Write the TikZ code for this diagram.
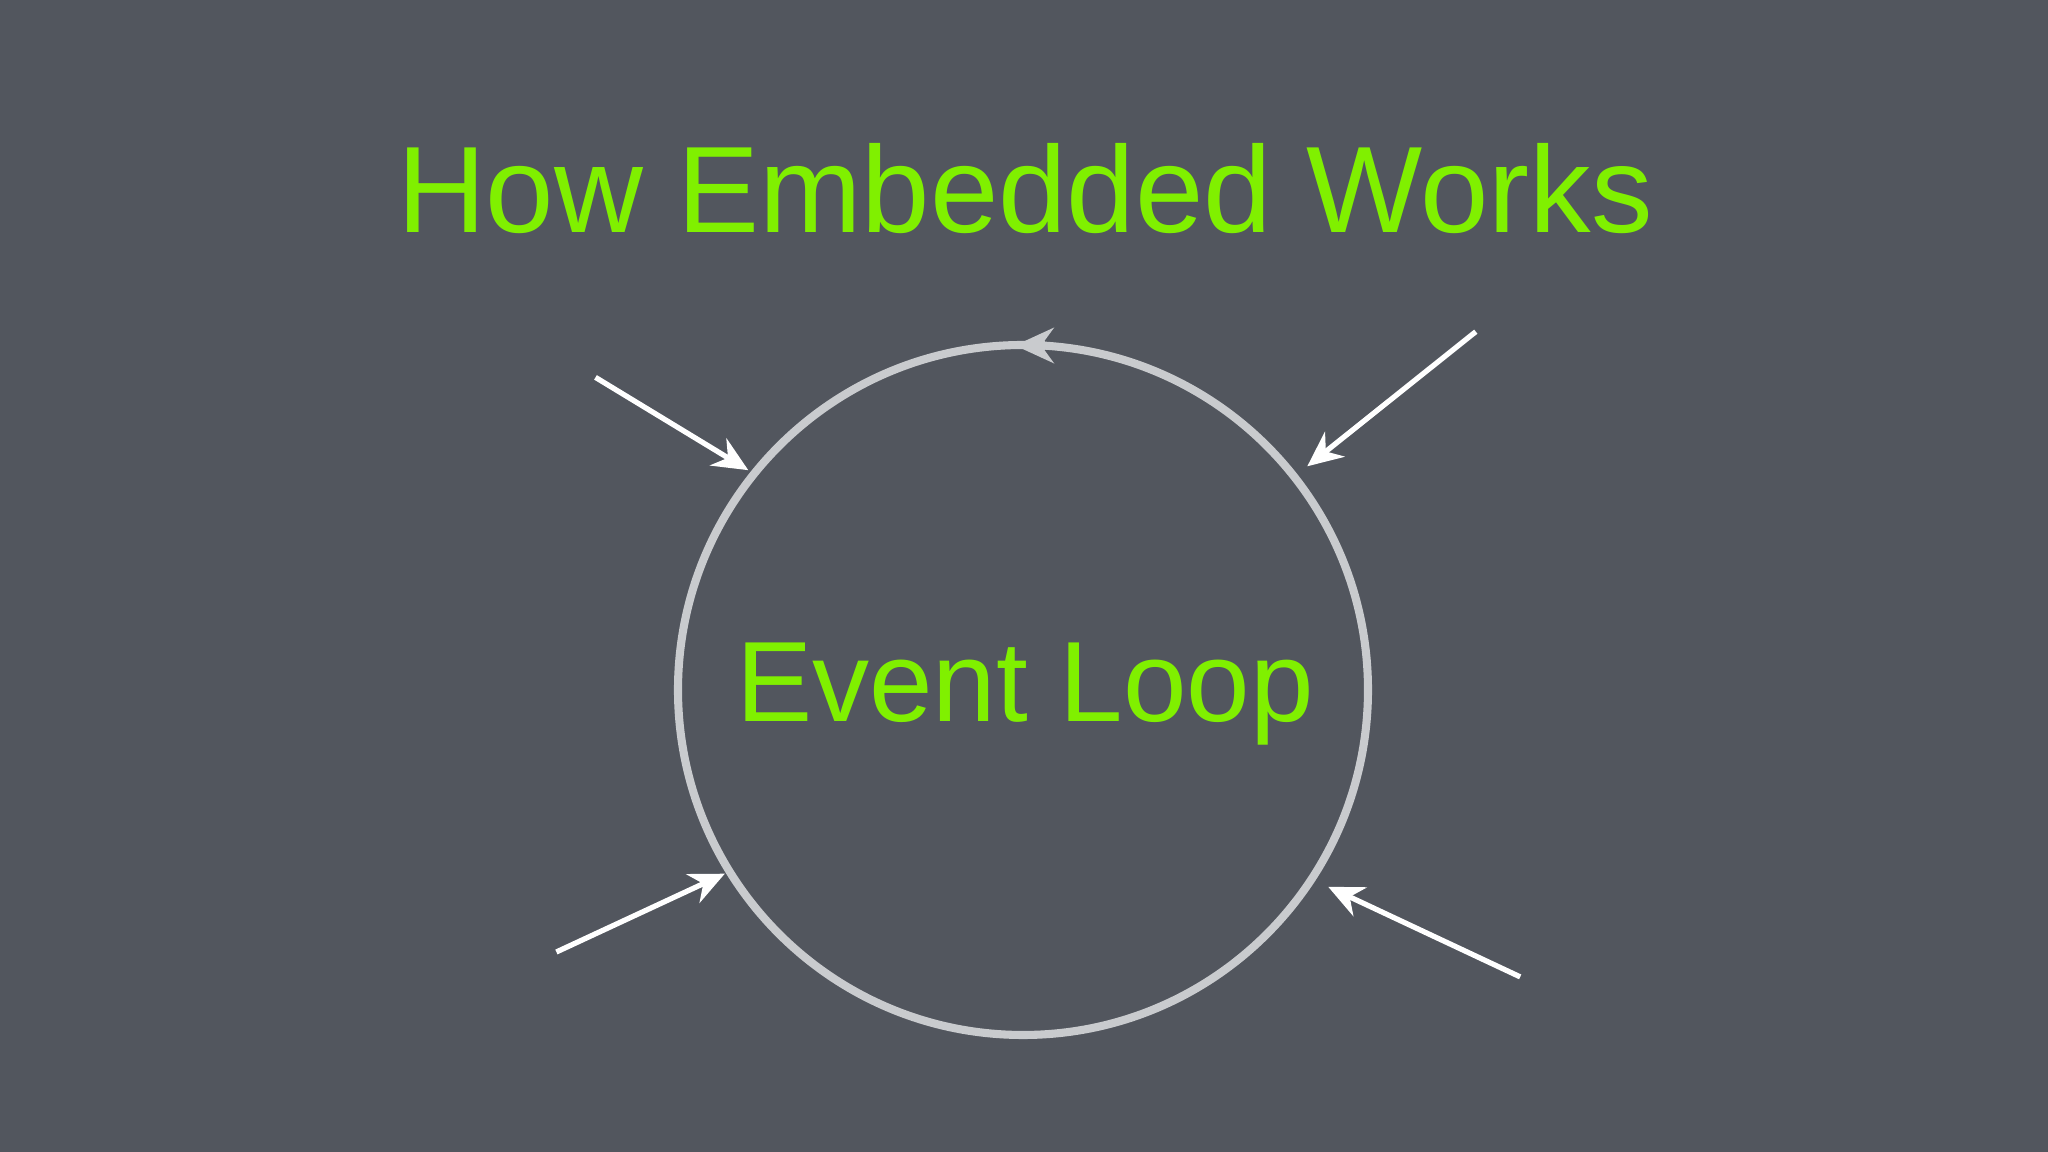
\documentclass[tikz,border=0pt]{standalone}
\usepackage{fontspec}
\setmainfont{Liberation Sans}
\usetikzlibrary{arrows.meta}
\definecolor{bg}{HTML}{52565E}
\definecolor{lime}{HTML}{80F000}
\definecolor{ring}{HTML}{C9CBCE}
\begin{document}
\begin{tikzpicture}[
  inarrow/.style={white,line width=1.5pt,-{Stealth[length=10pt,width=9pt]}},
  lbl/.style={text=lime,inner sep=0pt}]
\fill[bg] (0,0) rectangle (20.48,11.52);
\useasboundingbox (0,0) rectangle (20.48,11.52);
\node[lbl,font=\fontsize{35}{40}\selectfont] (title) at (10.25,9.63) {How Embedded Works};
\node[circle,draw=ring,line width=2.3pt,minimum size=6.9cm,inner sep=0pt] (loop) at (10.23,4.62) {};
\node[lbl,font=\fontsize{32.5}{38}\selectfont] (label) at (10.25,4.58) {Event Loop};
\draw[ring,line width=2.3pt,-{Stealth[length=11pt,width=10pt]}] (10.45,8.065) -- (10.15,8.065);
\coordinate (s1) at (5.955,7.746); \coordinate (e1) at (7.483,6.818);
\coordinate (s2) at (14.758,8.203); \coordinate (e2) at (13.073,6.857);
\coordinate (s3) at (5.564,2.000); \coordinate (e3) at (7.248,2.783);
\coordinate (s4) at (15.202,1.751); \coordinate (e4) at (13.282,2.652);
\draw[inarrow] (s1) -- (e1);
\draw[inarrow] (s2) -- (e2);
\draw[inarrow] (s3) -- (e3);
\draw[inarrow] (s4) -- (e4);
\end{tikzpicture}
\end{document}
